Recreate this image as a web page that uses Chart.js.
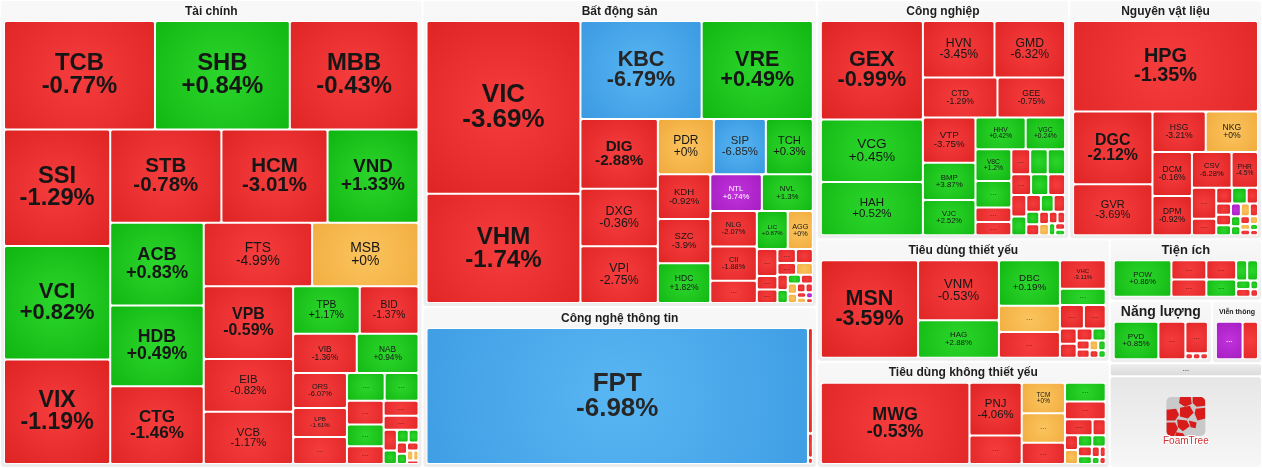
<!DOCTYPE html>
<html>
<head>
<meta charset="utf-8">
<script src="https://cdn.jsdelivr.net/npm/chart.js@4.4.1/dist/chart.umd.min.js"></script>
<style>
  html, body { margin: 0; padding: 0; background: #fff; }
  #wrap { width: 1262px; height: 468px; position: relative; }
</style>
</head>
<body>
<div id="wrap"><canvas id="myChart"></canvas></div>
<script>
// sectors (weights = relative area of each sector box)
const groupNames = ['Tài chính', 'Bất động sản', 'Công nghệ thông tin', 'Công nghiệp', 'Nguyên vật liệu',
  'Tiêu dùng thiết yếu', 'Tiêu dùng không thiết yếu', 'Tiện ích', 'Năng lượng', 'Viễn thông', '...'];
const groupWeights = [195800, 119865, 62880, 59738, 45696, 35502, 30846, 9272, 6324, 3100, 15808];
const groupStrips = [1, 2, 2, 2, 1, 2, 1];

// '' = stock too small to label ("...")
const finTickers = ['TCB','SHB','MBB','SSI','VCI','VIX','STB','HCM','VND','ACB','HDB','CTG','FTS','MSB','VPB','EIB','VCB','TPB','BID','VIB','NAB','ORS','LPB',
  '','','','','','','','', '','','','','','','','','',''];
const finChanges = [-0.77,0.84,-0.43,-1.29,0.82,-1.19,-0.78,-3.01,1.33,0.83,0.49,-1.46,-4.99,0,-0.59,-0.82,-1.17,1.17,-1.37,-1.36,0.94,-6.07,-1.61,
  -1.2,0.8,0.6,-0.9,0.7,-1.1,-0.5,-0.8, -1.0,0.5,0.4,0.6,-0.7,0.3,-0.6,0,0,-0.4];
const finWeights = [15794,14098,13462,11948,11639,10712,10010,9555,8190,7470,7290,7020,6650,6530,6280,4550,4500,3060,2700,2400,2330,1820,1510,
  1400,1014,910,840,770,630,507,470, 266,171,144,120,110,100,90,60,50,40];
const finStrips = [3,3,3,3,2,3,2,2,3,2,3,1,1];

const reTickers = ['VIC','VHM','KBC','VRE','DIG','DXG','VPI','PDR','SIP','TCH','KDH','SZC','HDC','NTL','NVL','NLG','CII','','LIC','AGG',
  '','','','','','','','','','','','','','','','','','',''];
const reChanges = [-3.69,-1.74,-6.79,0.49,-2.88,-0.36,-2.75,0,-6.85,0.3,-0.92,-3.9,1.82,6.74,1.3,-2.07,-1.88,-1.3,0.87,0,
  -1.1,-0.9,-0.8,-1.5,-0.7,-1.0,0,-0.6,0.9,0.5,-1.2,0,0,-0.4,-2.0,-0.3,0,6.9,-0.5];
const reWeights = [25480,16090,11374,10434,5175,4275,4200,2968,2756,2491,2244,2230,1990,1820,1800,1575,1530,990,1120,910,
  532,266,266,250,230,210,190,150,130,110,100,90,80,70,60,50,45,40,30];
const reStrips = [2,2,3,3,3,2,3,2,3];

const itTickers = ['FPT','','',''];
const itChanges = [-6.98,-1.5,-1.0,-0.8];
const itWeights = [50400,500,115,30];
const itStrips = [1,1,1,1];

const indTickers = ['GEX','VCG','HAH','HVN','GMD','CTD','GEE','VTP','BMP','VJC','HHV','VGC','V8C','','','',
  '','','','','','','','','','','','','','','','','','','',''];
const indChanges = [-0.99,0.45,0.52,-3.45,-6.32,-1.29,-0.75,-3.75,3.87,2.52,0.42,0.24,1.2,0.8,-1.0,-0.9,
  -1.1,0.6,0.5,-0.8,0.7,-1.2,-0.9,0.4,-0.6,0.3,-0.5,0.8,-1.3,-0.7,0,-0.4,-0.6,0.5,-0.3,0.2];
const indWeights = [9312,5917,5044,3744,3692,2775,2516,2205,1813,1715,1479,1160,1054,884,476,442,
  435,405,400,380,330,323,300,260,230,200,180,150,130,110,100,90,80,70,60,50];
const indStrips = [3,2,2,3,2,4];

const matTickers = ['HPG','DGC','GVR','HSG','NKG','DCM','DPM','CSV','PHR','','',
  '','','','','','','','','','','','','','','','',''];
const matChanges = [-1.35,-2.12,-3.69,-3.21,0,-0.16,-0.92,-6.28,-4.5,-1.4,-0.9,
  -0.8,0.9,-1.1,-0.6,-0.7,0.5,6.9,0,-0.5,0.4,0.6,-0.9,0,0,-0.3,0.7,-0.4];
const matWeights = [16095,5548,3876,2067,2028,1672,1482,1365,910,720,384,
  240,220,170,160,150,140,120,110,100,90,80,70,60,55,50,45,40];
const matStrips = [1,2,2,2,2,2];

const stapTickers = ['MSN','VNM','HAG','DBC','','','VHC','', '','','','','','','','','','','',''];
const stapChanges = [-3.59,-0.53,2.88,0.19,0,-1.2,-3.11,0.7, -1.0,-0.8,-0.6,-0.9,-0.5,0.6,-0.7,-0.4,0,0.5,-0.3,0.4];
const stapWeights = [8928,4582,2844,2623,1500,1480,1232,704, 528,480,240,220,180,150,110,100,80,70,60,50];
const stapStrips = [1,2,3,1,1];

const discTickers = ['MWG','PNJ','','TCM','','','','', '','','','','','','','','','','',''];
const discChanges = [-0.53,-4.06,-1.1,0,0,-0.9,0.8,-1.0, -1.2,-0.6,-0.5,0,0.6,0.5,-0.8,0.4,-0.5,-0.7,0.3,-0.4];
const discWeights = [11376,2600,1404,1247,1204,860,720,680, 420,200,180,170,150,140,130,100,80,60,50,40];
const discStrips = [1,2,3,1,1];

const utilTickers = ['POW','','','','', '','','','','',''];
const utilChanges = [0.86,-1.1,-0.9,-0.8,0.6, 0.5,0.4,0.6,-0.7,0.3,-0.5];
const utilWeights = [1908,612,544,522,464, 204,200,110,100,60,50];
const utilStrips = [1,2,2];

const enTickers = ['PVD','','','','',''];
const enChanges = [0.85,-1.2,-0.9,-0.5,-0.4,-0.3];
const enWeights = [1505,910,638,40,40,40];
const enStrips = [1,1,1];

const telTickers = ['',''];
const telChanges = [6.9,-1.0];
const telWeights = [910,525];
const telStrips = [1,1];

const groupStocks = [
  [finTickers, finChanges, finWeights, finStrips],
  [reTickers, reChanges, reWeights, reStrips],
  [itTickers, itChanges, itWeights, itStrips],
  [indTickers, indChanges, indWeights, indStrips],
  [matTickers, matChanges, matWeights, matStrips],
  [stapTickers, stapChanges, stapWeights, stapStrips],
  [discTickers, discChanges, discWeights, discStrips],
  [utilTickers, utilChanges, utilWeights, utilStrips],
  [enTickers, enChanges, enWeights, enStrips],
  [telTickers, telChanges, telWeights, telStrips],
  null
];

const W = 1262, H = 468;
const FONT = '"Liberation Sans", Arial, sans-serif';
const titleSize = { 'Tiện ích': 13, 'Năng lượng': 14, 'Viễn thông': 7 };

// how many items squarify would put in the next strip
function bestCount(weights, i, r, k) {
  const side = Math.min(r.w, r.h);
  let sum = 0, mx = 0, mn = Infinity, best = Infinity, c = 0;
  for (let j = i; j < weights.length; j++) {
    const a = weights[j] * k;
    const s2 = sum + a, mx2 = Math.max(mx, a), mn2 = Math.min(mn, a);
    const worst = Math.max(side * side * mx2 / (s2 * s2), s2 * s2 / (side * side * mn2));
    if (c > 0 && worst > best) break;
    best = worst; sum = s2; mx = mx2; mn = mn2; c++;
  }
  return c;
}

// strips laid along the shorter side of what is left, like squarified
function layoutStrips(weights, rect, strips) {
  const n = weights.length;
  const total = weights.reduce((a, b) => a + b, 0);
  const k = rect.w * rect.h / total;
  const out = new Array(n);
  const r = { x: rect.x, y: rect.y, w: rect.w, h: rect.h };
  let i = 0, s = 0;
  while (i < n) {
    let cnt = s < strips.length ? strips[s++] : bestCount(weights, i, r, k);
    cnt = Math.max(1, Math.min(cnt, n - i));
    let sum = 0;
    for (let j = i; j < i + cnt; j++) sum += weights[j] * k;
    if (r.w >= r.h) {
      const cw = sum / r.h; let y = r.y;
      for (let j = i; j < i + cnt; j++) { const hh = weights[j] * k / cw; out[j] = { x: r.x, y: y, w: cw, h: hh }; y += hh; }
      r.x += cw; r.w -= cw;
    } else {
      const rh = sum / r.w; let x = r.x;
      for (let j = i; j < i + cnt; j++) { const ww = weights[j] * k / rh; out[j] = { x: x, y: r.y, w: ww, h: rh }; x += ww; }
      r.y += rh; r.h -= rh;
    }
    i += cnt;
  }
  return out;
}

const groupRects = layoutStrips(groupWeights, { x: 0, y: 0, w: W, h: H }, groupStrips);
const groupPoints = [];
const cellPoints = [];
groupRects.forEach((gr, gi) => {
  const box = { x: gr.x + 1, y: gr.y + 1, w: gr.w - 2, h: gr.h - 2 };
  groupPoints.push({ x: box.x + box.w / 2, y: box.y + box.h / 2, box: box, name: groupNames[gi] });
  const st = groupStocks[gi];
  if (!st) return;
  const inner = { x: box.x + 3, y: box.y + 20, w: box.w - 6, h: box.h - 23 };
  const rects = layoutStrips(st[2], inner, st[3]);
  rects.forEach((r, i) => {
    cellPoints.push({ x: r.x + r.w / 2, y: r.y + r.h / 2, x0: r.x, x1: r.x + r.w, y0: r.y, y1: r.y + r.h,
      ticker: st[0][i], change: st[1][i] });
  });
});

function palette(v) {
  if (v >= 6.5) return ['#c232dc', '#a01bbd'];
  if (v <= -6.5) return ['#58b6f3', '#3796df'];
  if (v === 0) return ['#fbc45e', '#f0a93a'];
  if (v > 0) return ['#2cd62c', '#0fb40f'];
  return ['#f63d3d', '#dd2222'];
}

function pct(v) {
  return (v >= 0 ? '+' : '') + String(v) + '%';
}

function rrect(ctx, x, y, w, h, r) {
  r = Math.max(0, Math.min(r, w / 2, h / 2));
  ctx.beginPath();
  ctx.moveTo(x + r, y);
  ctx.arcTo(x + w, y, x + w, y + h, r);
  ctx.arcTo(x + w, y + h, x, y + h, r);
  ctx.arcTo(x, y + h, x, y, r);
  ctx.arcTo(x, y, x + w, y, r);
  ctx.closePath();
}

// little voronoi-ish watermark of the "..." box
const logoCells = [
  [[14,0],[25,0],[26,7],[19,10],[13,6]],
  [[27,0],[40,0],[40,9],[31,10],[27,6]],
  [[0,13],[10,12],[13,18],[9,24],[0,24]],
  [[14,11],[24,9],[28,16],[22,22],[14,20]],
  [[30,12],[40,11],[40,22],[32,24],[29,17]],
  [[0,26],[9,26],[12,32],[8,40],[0,40]],
  [[11,23],[21,24],[24,30],[17,35],[12,31]],
  [[23,24],[31,26],[30,32],[25,31]],
  [[10,36],[17,37],[19,40],[9,40]]
];

function drawLogo(ctx, cx, cy) {
  const s = 39, lx = cx - s / 2, ly = cy - 25, u = s / 40;
  ctx.save();
  rrect(ctx, lx, ly, s, s, 5);
  ctx.fillStyle = '#c9c9c9';
  ctx.fill();
  ctx.clip();
  ctx.fillStyle = '#d81c1c';
  logoCells.forEach(p => {
    ctx.beginPath();
    p.forEach((q, i) => { const X = lx + q[0] * u, Y = ly + q[1] * u; if (i) ctx.lineTo(X, Y); else ctx.moveTo(X, Y); });
    ctx.closePath();
    ctx.fill();
  });
  ctx.restore();
  ctx.font = '10px ' + FONT;
  ctx.textAlign = 'center';
  ctx.textBaseline = 'middle';
  ctx.lineWidth = 2;
  ctx.strokeStyle = 'rgba(255,255,255,0.9)';
  ctx.strokeText('FoamTree', cx, cy + 19);
  ctx.fillStyle = '#d43030';
  ctx.fillText('FoamTree', cx, cy + 19);
}

const treemapPlugin = {
  id: 'treemap',
  afterDatasetsDraw(chart) {
    const ctx = chart.ctx;
    const xs = chart.scales.x, ys = chart.scales.y;
    ctx.save();
    // sector boxes
    chart.data.datasets[0].data.forEach(g => {
      const x0 = xs.getPixelForValue(g.box.x), x1 = xs.getPixelForValue(g.box.x + g.box.w);
      const y0 = ys.getPixelForValue(g.box.y), y1 = ys.getPixelForValue(g.box.y + g.box.h);
      const w = x1 - x0, h = y1 - y0;
      ctx.textAlign = 'center';
      ctx.textBaseline = 'middle';
      if (g.name === '...') {
        let gr = ctx.createLinearGradient(0, y0, 0, y0 + 11);
        gr.addColorStop(0, '#ececec'); gr.addColorStop(1, '#dcdcdc');
        rrect(ctx, x0, y0, w, 11, 2); ctx.fillStyle = gr; ctx.fill();
        ctx.font = 'bold 8px ' + FONT; ctx.fillStyle = '#777';
        ctx.fillText('...', (x0 + x1) / 2, y0 + 4.5);
        gr = ctx.createLinearGradient(0, y0 + 13, 0, y1);
        gr.addColorStop(0, '#e6e6e6'); gr.addColorStop(1, '#f7f7f7');
        rrect(ctx, x0, y0 + 13, w, h - 13, 3); ctx.fillStyle = gr; ctx.fill();
        drawLogo(ctx, (x0 + x1) / 2, (y0 + 13 + y1) / 2);
        return;
      }
      const gr = ctx.createLinearGradient(0, y0, 0, y1);
      gr.addColorStop(0, '#f8f8f8'); gr.addColorStop(1, '#ededed');
      rrect(ctx, x0, y0, w, h, 3);
      ctx.fillStyle = gr; ctx.fill();
      ctx.fillStyle = '#fff';
      ctx.fillRect(x0 + 3, y0 + 20, w - 6, h - 23);
      const fs = titleSize[g.name] || 12;
      ctx.font = 'bold ' + fs + 'px ' + FONT;
      ctx.fillStyle = '#1e1e1e';
      ctx.fillText(g.name, (x0 + x1) / 2, y0 + 10.5);
    });
    // stock cells
    chart.data.datasets[1].data.forEach(c => {
      const x0 = xs.getPixelForValue(c.x0) + 1, x1 = xs.getPixelForValue(c.x1) - 1;
      const y0 = ys.getPixelForValue(c.y0) + 1, y1 = ys.getPixelForValue(c.y1) - 1;
      const w = x1 - x0, h = y1 - y0;
      if (w <= 0.4 || h <= 0.4) return;
      const cx = (x0 + x1) / 2, cy = (y0 + y1) / 2;
      const col = palette(c.change);
      const g = ctx.createRadialGradient(cx, cy, 0, cx, cy, Math.max(w, h) * 0.72);
      g.addColorStop(0, col[0]); g.addColorStop(1, col[1]);
      rrect(ctx, x0, y0, w, h, 1.5);
      ctx.fillStyle = g; ctx.fill();
      ctx.textAlign = 'center';
      ctx.textBaseline = 'middle';
      const light = c.change >= 6.5;
      if (!c.ticker) {
        if (w >= 16 && h >= 9) {
          ctx.font = 'bold 8px ' + FONT;
          ctx.fillStyle = light ? 'rgba(255,255,255,0.85)' : 'rgba(0,0,0,0.4)';
          ctx.fillText('...', cx, cy - 1);
        }
        return;
      }
      const lines = [c.ticker, pct(c.change)];
      ctx.font = 'bold 100px ' + FONT;
      const em = Math.max(...lines.map(l => ctx.measureText(l).width)) / 100;
      const f = Math.min(26, h * 0.225, 0.72 * w / em);
      if (f < 4) return;
      ctx.font = (f >= 14.5 ? 'bold ' : '') + f.toFixed(1) + 'px ' + FONT;
      ctx.fillStyle = light ? '#ffffff' : (c.change <= -6.5 ? '#262626' : '#161616');
      const lh = f * 0.95;
      ctx.fillText(lines[0], cx, cy - lh / 2);
      ctx.fillText(lines[1], cx, cy + lh / 2);
    });
    ctx.restore();
  }
};

const ctx = document.getElementById('myChart');

new Chart(ctx, {
  type: 'scatter',
  data: {
    datasets: [
      { label: 'sectors', data: groupPoints, pointRadius: 0, showLine: false },
      { label: 'stocks', data: cellPoints, pointRadius: 0, showLine: false }
    ]
  },
  options: {
    responsive: true,
    maintainAspectRatio: false,
    animation: false,
    layout: { padding: 0 },
    plugins: { legend: { display: false }, tooltip: { enabled: false } },
    scales: {
      x: { type: 'linear', min: 0, max: W, display: false },
      y: { type: 'linear', min: 0, max: H, reverse: true, display: false }
    }
  },
  plugins: [treemapPlugin]
});
</script>
</body>
</html>
